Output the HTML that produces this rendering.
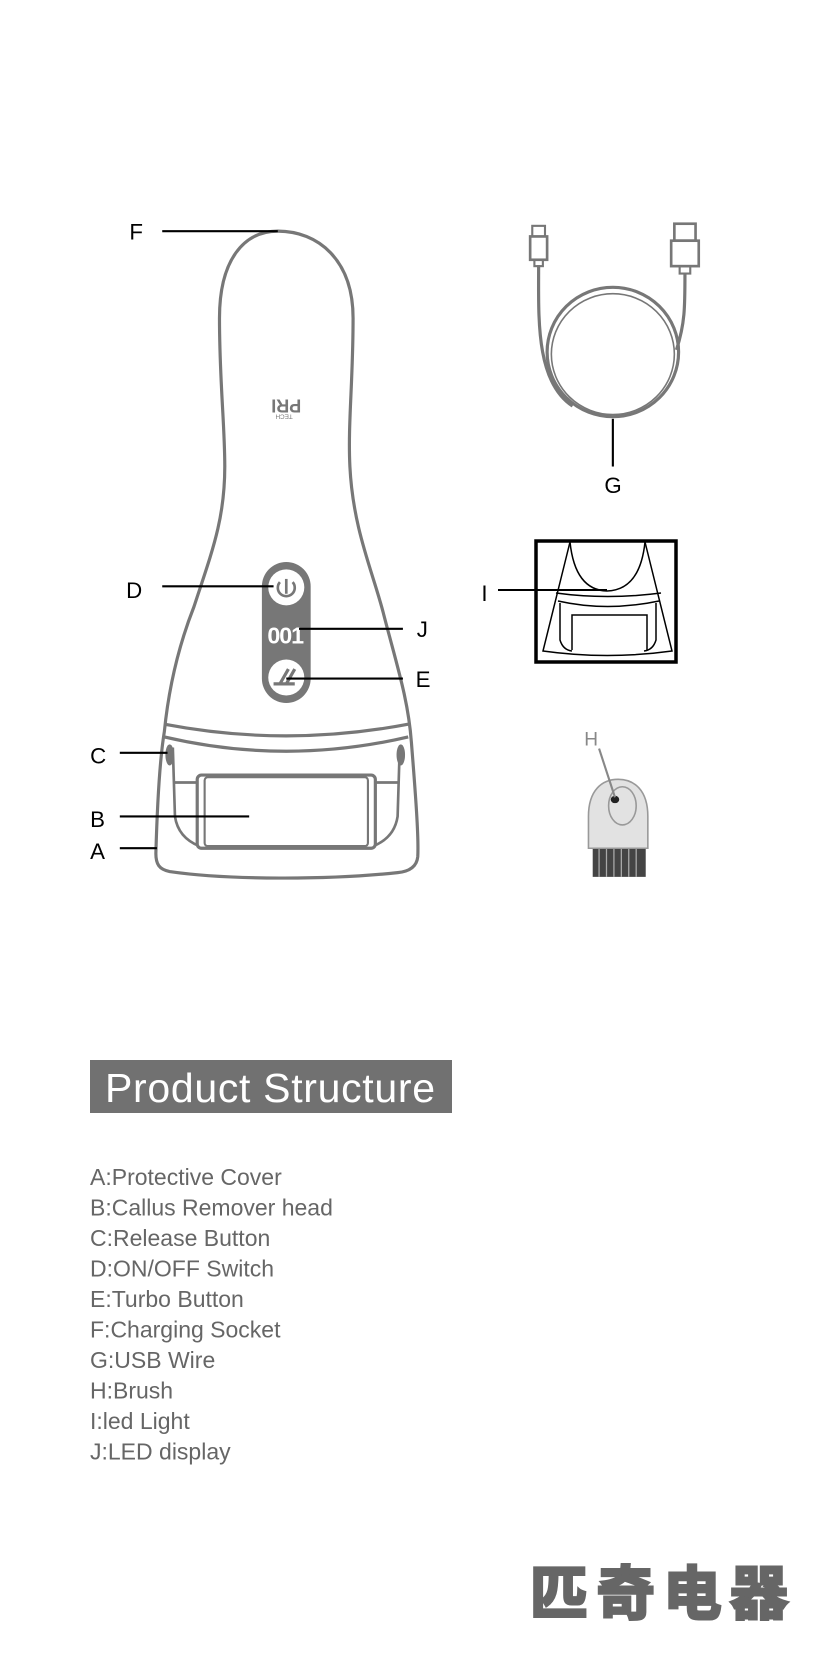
<!DOCTYPE html>
<html><head><meta charset="utf-8"><style>
html,body{margin:0;padding:0;background:#fff;}
svg{display:block;}
</style></head><body>
<svg width="827" height="1654" viewBox="0 0 827 1654" xmlns="http://www.w3.org/2000/svg" font-family="Liberation Sans, sans-serif">
<g transform="scale(1.0603)">
  <path d="M262,218 C300,218 333,245 333,300 C333,360 328,400 330,440 C333,500 352,540 362,580 C375,630 385,660 388,700 C392,750 395,790 394,808 C393,818 385,822 375,823 C310,830 215,830 160,822 C150,820 147,815 147,805 C148,770 150,720 155,690 C160,640 172,600 183,572 C200,520 212,490 212,440 C212,400 207,360 207,300 C207,245 230,218 262,218 Z" fill="#fff" stroke="#777" stroke-width="3"/>
  <path d="M155,683 Q270,705 385,683" fill="none" stroke="#777" stroke-width="3"/>
  <path d="M155,695 Q270,722 385,695" fill="none" stroke="#777" stroke-width="3"/>
  <ellipse cx="160" cy="712" rx="4" ry="10" fill="#777"/>
  <ellipse cx="378" cy="712" rx="4" ry="10" fill="#777"/>
  <path d="M163,705 L165,770 Q168,790 188,798" fill="none" stroke="#777" stroke-width="2.5"/>
  <path d="M377,705 L375,770 Q372,790 352,798" fill="none" stroke="#777" stroke-width="2.5"/>
  <path d="M165,738 L188,738 M352,738 L375,738" stroke="#777" stroke-width="2.5"/>
  <rect x="186" y="731" width="168" height="69" rx="4" fill="#fff" stroke="#777" stroke-width="3"/>
  <rect x="193" y="733" width="154" height="65" rx="3" fill="#fff" stroke="#777" stroke-width="2"/>
  <rect x="247" y="530" width="46" height="133" rx="23" fill="#777"/>
  <circle cx="270" cy="554" r="17" fill="#fff"/>
  <circle cx="270" cy="639" r="17" fill="#fff"/>
  <path d="M264,549 A8,8 0 1 0 276,549" fill="none" stroke="#777" stroke-width="2.5"/>
  <line x1="270" y1="546" x2="270" y2="560" stroke="#777" stroke-width="2.5"/>
  <path d="M258,645 L278,645 M270,645 L278,631 M264,645 L272,631" stroke="#777" stroke-width="3" fill="none"/>
  <text x="269" y="607" font-size="22" fill="#fff" text-anchor="middle" font-weight="bold" letter-spacing="-1">001</text>
  <g transform="translate(270,383) rotate(180)">
    <text x="0" y="6" font-size="17" font-weight="bold" fill="#777" text-anchor="middle">PRI</text>
    <text x="2" y="-8" font-size="6" fill="#777" text-anchor="middle">TECH</text>
  </g>
  <g stroke="#000" stroke-width="2">
    <line x1="153" y1="218" x2="262" y2="218"/>
    <line x1="153" y1="553" x2="258" y2="553"/>
    <line x1="282" y1="593" x2="380" y2="593"/>
    <line x1="270" y1="640" x2="380" y2="640"/>
    <line x1="113" y1="710" x2="158" y2="710"/>
    <line x1="113" y1="770" x2="235" y2="770"/>
    <line x1="113" y1="800" x2="148" y2="800"/>
    <line x1="578" y1="395" x2="578" y2="440"/>
  </g>
  <g font-size="21" fill="#000">
    <text x="122" y="226">F</text>
    <text x="119" y="564">D</text>
    <text x="393" y="601">J</text>
    <text x="392" y="648">E</text>
    <text x="85" y="720">C</text>
    <text x="85" y="780">B</text>
    <text x="85" y="810">A</text>
    <text x="570" y="465">G</text>
    <text x="454" y="567">I</text>
  </g>
  <g fill="none" stroke="#777" stroke-width="3">
    <ellipse cx="578" cy="332" rx="62" ry="61"/>
    <ellipse cx="578" cy="334" rx="58" ry="57" stroke-width="1.5"/>
    <path d="M508,250 C508,300 505,360 540,383"/>
    <path d="M646,258 C646,290 646,305 638,330"/>
    <rect x="502" y="213" width="12" height="10" stroke-width="2"/>
    <rect x="500" y="223" width="16" height="22" stroke-width="2.5"/>
    <rect x="504" y="245" width="8" height="6" stroke-width="2"/>
    <rect x="636" y="211" width="20" height="16" stroke-width="2.5"/>
    <rect x="633" y="227" width="26" height="24" stroke-width="2.5"/>
    <rect x="641" y="251" width="10" height="7" stroke-width="2"/>
  </g>
  <rect x="559" y="800" width="50" height="27" fill="#444"/>
  <g stroke="#aaa" stroke-width="1.2"><line x1="565" y1="800" x2="565" y2="827"/><line x1="572" y1="800" x2="572" y2="827"/><line x1="579" y1="800" x2="579" y2="827"/><line x1="586" y1="800" x2="586" y2="827"/><line x1="593" y1="800" x2="593" y2="827"/><line x1="600" y1="800" x2="600" y2="827"/></g>
  <path d="M555,800 L555,770 C555,745 568,735 583,735 C598,735 611,745 611,770 L611,800 Z" fill="#e2e2e2" stroke="#999" stroke-width="1.5"/>
  <ellipse cx="587" cy="760" rx="13" ry="18" fill="none" stroke="#999" stroke-width="1.5"/>
  <ellipse cx="580" cy="754" rx="4" ry="3.5" fill="#222"/>
  <line x1="565" y1="706" x2="580" y2="752" stroke="#888" stroke-width="2"/>
  <text x="551" y="703" font-size="18" fill="#888">H</text>
</g>
<g fill="none" stroke="#000">
  <rect x="536" y="541" width="140" height="121" stroke-width="3.5"/>
  <path d="M570,542 L543,651 Q607,660 672,651 L645,542" stroke-width="1.5"/>
  <path d="M570,542 Q575,590 607,591 Q640,590 645,542" stroke-width="1.5"/>
  <path d="M556,593 Q607,600 661,593 M558,601 Q607,612 659,601" stroke-width="1.5"/>
  <path d="M560,603 L560,640 Q563,650 572,651 M656,603 L656,640 Q653,650 644,651" stroke-width="1.5"/>
  <path d="M572,650 L572,615 L647,615 L647,650" stroke-width="1.5"/>
  <line x1="498" y1="590" x2="607" y2="590" stroke-width="2"/>
</g>
<rect x="90" y="1060" width="362" height="53" fill="#717171"/>
<text x="105" y="1102" font-size="41" fill="#fff" textLength="330">Product Structure</text>
<g font-size="23" fill="#666">
  <text x="90" y="1185">A:Protective Cover</text>
  <text x="90" y="1215.5">B:Callus Remover head</text>
  <text x="90" y="1246">C:Release Button</text>
  <text x="90" y="1276.5">D:ON/OFF Switch</text>
  <text x="90" y="1307">E:Turbo Button</text>
  <text x="90" y="1337.5">F:Charging Socket</text>
  <text x="90" y="1368">G:USB Wire</text>
  <text x="90" y="1398.5">H:Brush</text>
  <text x="90" y="1429">I:led Light</text>
  <text x="90" y="1459.5">J:LED display</text>
</g>
<text x="530" y="1614" font-size="58" font-weight="bold" fill="#666" stroke="#666" stroke-width="3" font-family="Liberation Sans, Noto Sans CJK SC, sans-serif" textLength="258">匹奇电器</text>
</svg>
</body></html>
